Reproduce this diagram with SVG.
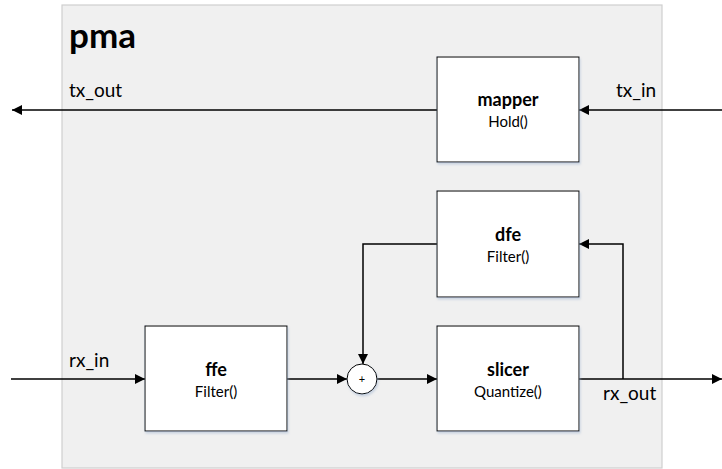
<svg xmlns="http://www.w3.org/2000/svg" width="722" height="469" viewBox="0 0 722 469">
  <defs>
    <style>
      text { font-family: Lato, "Open Sans", "Liberation Sans", sans-serif; fill: #000; }
      .frame { fill: #f0f0f0; stroke: #cfcfcf; stroke-width: 1.2; }
      .blk { fill: #fff; stroke: #000; stroke-width: 1; filter: url(#shadow); }
      .title { font-size: 18px; font-weight: bold; text-anchor: middle; }
      .sub { font-size: 15px; text-anchor: middle; }
      .lbl { font-size: 19px; }
      .pma { font-size: 35px; font-weight: bold; }
      .wire { fill: none; stroke: #000; stroke-width: 1.5; }
    </style>
    <marker id="arrow" viewBox="0 0 10 10" refX="10" refY="5" markerWidth="10" markerHeight="10" markerUnits="userSpaceOnUse" orient="auto">
      <path d="M0,0 L10,5 L0,10 Z" fill="#000"/>
    </marker>
    <filter id="shadow" x="-10%" y="-10%" width="125%" height="130%">
      <feDropShadow dx="1" dy="2" stdDeviation="1.2" flood-color="#9fb4d0" flood-opacity="0.5"/>
    </filter>
  </defs>

  <!-- enclosing pma block -->
  <g id="pma">
    <rect class="frame" x="62" y="5" width="600" height="463"/>
    <text class="pma" x="69" y="48">pma</text>
  </g>

  <g id="connectors">
    <line class="wire" x1="437" y1="110" x2="12" y2="110" marker-end="url(#arrow)"/>
    <line class="wire" x1="722" y1="110" x2="579" y2="110" marker-end="url(#arrow)"/>
    <line class="wire" x1="11" y1="379" x2="145" y2="379" marker-end="url(#arrow)"/>
    <line class="wire" x1="287" y1="379" x2="347" y2="379" marker-end="url(#arrow)"/>
    <line class="wire" x1="377" y1="379" x2="437" y2="379" marker-end="url(#arrow)"/>
    <line class="wire" x1="579" y1="379" x2="722" y2="379" marker-end="url(#arrow)"/>
    <polyline class="wire" points="623,379 623,244 579,244" marker-end="url(#arrow)"/>
    <polyline class="wire" points="437,244 363,244 363,364" marker-end="url(#arrow)"/>
    <text class="lbl" x="69" y="97">tx_out</text>
    <text class="lbl" x="616" y="97">tx_in</text>
    <text class="lbl" x="69" y="367">rx_in</text>
    <text class="lbl" x="603" y="400">rx_out</text>
  </g>

  <g id="mapper">
    <rect class="blk" x="437" y="57" width="142" height="105"/>
    <text class="title" x="508" y="106">mapper</text>
    <text class="sub" x="508" y="127">Hold()</text>
  </g>

  <g id="dfe">
    <rect class="blk" x="437" y="191" width="142" height="106"/>
    <text class="title" x="508" y="241">dfe</text>
    <text class="sub" x="508" y="262">Filter()</text>
  </g>

  <g id="ffe">
    <rect class="blk" x="145" y="326" width="142" height="105"/>
    <text class="title" x="216" y="376">ffe</text>
    <text class="sub" x="216" y="397">Filter()</text>
  </g>

  <g id="slicer">
    <rect class="blk" x="437" y="326" width="142" height="105"/>
    <text class="title" x="508" y="376">slicer</text>
    <text class="sub" x="508" y="397">Quantize()</text>
  </g>

  <g id="sum">
    <circle class="blk" cx="362" cy="379" r="15"/>
    <text x="362" y="383" font-size="11" text-anchor="middle">+</text>
  </g>
</svg>
